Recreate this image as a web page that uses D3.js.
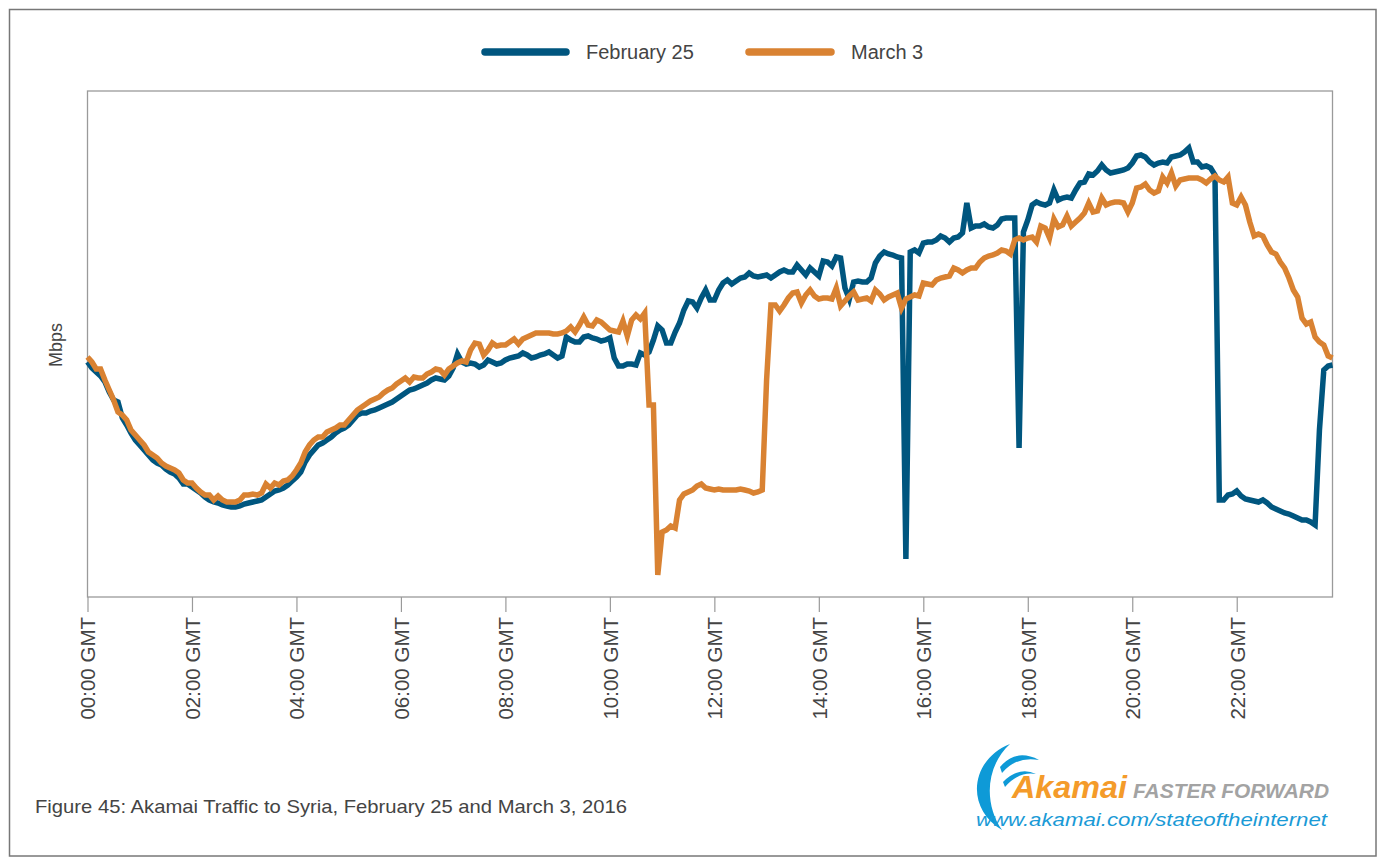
<!DOCTYPE html>
<html><head><meta charset="utf-8">
<script src="https://cdn.jsdelivr.net/npm/d3@7"></script>
<style>
html,body{margin:0;padding:0;background:#fff;}
svg{display:block;font-family:"Liberation Sans",Arial,sans-serif;}
</style></head>
<body>
<svg id="c" width="1386" height="867"></svg>
<script>
// Time grid: minutes after 00:00 GMT, every 5 minutes (00:00 .. 23:50)
const minutes = d3.range(0, 1431, 5);
const seriesNames = ["February 25", "March 3"];
const seriesColors = ["#00567f", "#d98232"];
const tickMinutes = d3.range(0, 1321, 120);
const tickLabels = ["00:00 GMT","02:00 GMT","04:00 GMT","06:00 GMT","08:00 GMT","10:00 GMT","12:00 GMT","14:00 GMT","16:00 GMT","18:00 GMT","20:00 GMT","22:00 GMT"];

// Traffic (relative Mbps, no scale published)
const feb25 = [
235,229,225,221,215,205,197,195,179,172,164,157,
152,147,142,137,134,132,128,125,123,119,113,113,
110,107,104,100,97,95,94,92,91,90,90,91,
93,94,95,96,97,100,103,106,107,109,112,116,
120,125,135,142,147,152,154,157,160,164,167,169,
172,177,182,184,184,186,187,189,191,193,195,198,
201,204,207,208,210,212,214,217,219,218,217,221,
229,243,235,233,234,233,230,232,237,235,233,234,
237,239,240,241,244,242,239,240,242,243,245,242,
239,241,260,257,255,255,260,261,259,258,256,257,
259,239,231,231,233,233,232,244,242,245,257,271,
267,254,254,265,274,287,296,295,289,299,307,297,
297,307,314,317,313,316,319,320,324,321,320,321,
322,319,322,325,327,325,325,332,327,322,329,325,
321,336,335,331,340,339,309,298,315,316,315,315,
319,334,341,345,343,342,340,339,38,345,347,344,
354,355,355,357,361,359,355,359,360,364,394,369,
371,371,373,370,369,372,378,379,379,379,149,365,
377,392,395,393,392,394,407,397,399,400,399,407,
414,415,423,422,426,432,427,424,425,426,427,429,
434,441,442,440,435,432,434,435,434,440,441,442,
445,449,435,435,430,431,429,422,97,97,102,103,
106,101,98,97,96,95,97,94,90,88,86,84,
83,81,79,77,77,75,72,167,227,231,232
];
const mar3 = [
240,235,228,228,217,207,197,185,182,177,167,162,
157,152,145,142,139,134,131,129,127,124,117,114,
114,109,105,102,102,97,101,97,95,95,95,97,
102,102,103,102,104,113,109,114,112,116,117,121,
127,134,145,152,157,160,160,165,167,169,172,172,
177,182,187,190,193,196,198,200,204,207,209,213,
216,219,215,220,219,219,223,225,228,227,222,228,
231,234,236,235,247,254,253,242,247,254,251,252,
252,255,258,253,258,260,262,264,264,264,264,263,
263,264,266,270,265,272,280,272,271,277,275,271,
267,266,265,276,261,277,282,278,284,192,192,22,
65,67,71,69,97,103,105,107,111,113,109,108,
107,108,107,107,107,107,108,107,106,104,105,107,
217,292,292,286,292,299,304,305,294,302,307,301,
298,299,299,298,309,291,296,301,305,297,298,299,
296,307,303,297,300,302,304,289,298,300,302,301,
314,313,312,317,319,320,321,329,327,324,327,329,
329,335,339,341,342,344,347,346,343,357,359,357,
359,360,355,371,369,359,378,370,372,381,371,375,
379,384,394,385,386,399,392,394,395,395,394,385,
394,409,410,413,407,404,406,420,414,424,411,417,
418,419,419,419,417,414,418,421,417,415,420,394,
392,400,392,375,361,363,361,352,345,343,335,329,
319,307,300,279,273,275,260,255,252,241,239
];

const svg = d3.select("#c");
const plot = {left: 87.5, top: 91, right: 1332.5, bottom: 597};

// outer frame
svg.append("rect").attr("x", 9.5).attr("y", 9.5).attr("width", 1376 - 9.5).attr("height", 856 - 9.5)
  .attr("fill", "none").attr("stroke", "#777").attr("stroke-width", 1.5);

const x = d3.scaleLinear().domain([0, 1430]).range([plot.left, plot.right]);
const y = d3.scaleLinear().domain([0, 506]).range([plot.bottom, plot.top]);

// plot frame
svg.append("rect").attr("x", plot.left).attr("y", plot.top)
  .attr("width", plot.right - plot.left).attr("height", plot.bottom - plot.top)
  .attr("fill", "none").attr("stroke", "#9a9a9a").attr("stroke-width", 1.3);

// x axis
const xAxis = d3.axisBottom(x).tickValues(tickMinutes)
  .tickFormat((d, i) => tickLabels[i]).tickSize(15).tickSizeOuter(0);
const gx = svg.append("g").attr("transform", `translate(0,${plot.bottom})`).call(xAxis);
gx.select(".domain").remove();
gx.selectAll(".tick line").attr("stroke", "#9a9a9a").attr("stroke-width", 1.2);
gx.selectAll(".tick text")
  .attr("transform", "rotate(-90)")
  .attr("x", -20).attr("y", 0).attr("dy", "0.36em")
  .attr("text-anchor", "end")
  .attr("fill", "#444")
  .style("font-size", "20.5px")
  .style("font-family", "'Liberation Sans', Arial, sans-serif");

// y label
svg.append("text").attr("transform", "translate(62,345) rotate(-90)")
  .attr("text-anchor", "middle").attr("fill", "#444").style("font-size", "18px").text("Mbps");

// lines
const line = d3.line().x((d, i) => x(minutes[i])).y(d => y(d));
[feb25, mar3].forEach((vals, k) => {
  svg.append("path").datum(vals).attr("d", line)
    .attr("fill", "none").attr("stroke", seriesColors[k])
    .attr("stroke-width", 5.5).attr("stroke-linejoin", "miter").attr("stroke-miterlimit", 4);
});

// legend
const legendItems = [
  {x1: 485, x2: 566, tx: 586},
  {x1: 749, x2: 831, tx: 851}
];
legendItems.forEach((it, k) => {
  svg.append("line").attr("x1", it.x1).attr("x2", it.x2).attr("y1", 52).attr("y2", 52)
    .attr("stroke", seriesColors[k]).attr("stroke-width", 7.5).attr("stroke-linecap", "round");
  svg.append("text").attr("x", it.tx).attr("y", 59).attr("fill", "#444")
    .style("font-size", "20px").text(seriesNames[k]);
});

// caption
svg.append("text").attr("x", 35).attr("y", 813).attr("fill", "#444")
  .style("font-size", "19px")
  .attr("textLength", 592).attr("lengthAdjust", "spacingAndGlyphs")
  .text("Figure 45: Akamai Traffic to Syria, February 25 and March 3, 2016");

// logo
const logo = svg.append("g");
logo.append("path").attr("d", "M1010,744 C970,760 965,808 1002,830 C985,806 984,768 1010,744 Z").attr("fill", "#0e9ad7");
logo.append("path").attr("d", "M1000,767 Q1016,748 1039,760 Q1016,756 1002,773 Z").attr("fill", "#0e9ad7");
logo.append("path").attr("d", "M1003,782 Q1019,766 1036,774 Q1019,771 1005,787 Z").attr("fill", "#0e9ad7");
logo.append("text").attr("x", 1012).attr("y", 798).attr("fill", "#f49b2a")
  .style("font-size", "31px").style("font-weight", "bold").style("font-style", "italic")
  .attr("textLength", 115).attr("lengthAdjust", "spacingAndGlyphs").text("Akamai");
logo.append("text").attr("x", 1133).attr("y", 798).attr("fill", "#a3a3a3")
  .style("font-size", "20px").style("font-weight", "bold").style("font-style", "italic")
  .attr("textLength", 196).attr("lengthAdjust", "spacingAndGlyphs").text("FASTER FORWARD");
logo.append("text").attr("x", 976).attr("y", 826).attr("fill", "#1a9ad6")
  .style("font-size", "19px").style("font-style", "italic")
  .attr("textLength", 351).attr("lengthAdjust", "spacingAndGlyphs").text("www.akamai.com/stateoftheinternet");
</script>
</body></html>
